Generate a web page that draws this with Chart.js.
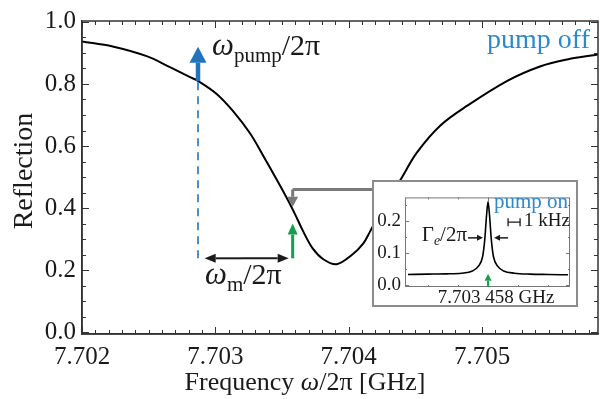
<!DOCTYPE html>
<html>
<head>
<meta charset="utf-8">
<script src="https://cdn.jsdelivr.net/npm/chart.js@4.4.1/dist/chart.umd.min.js"></script>
<style>
  html, body { margin: 0; padding: 0; background: #fff; }
  #wrap { position: relative; width: 600px; height: 399px; }
  #main { position: absolute; left: 0; top: 0; }
  #insetBox { position: absolute; left: 372px; top: 180px; width: 202px; height: 123px;
              border: 2px solid #8c8c8c; background: #fff; }
</style>
</head>
<body>
<div id="wrap">
  <canvas id="main" width="600" height="399"></canvas>
  <div id="insetBox"><canvas id="inset" width="202" height="123"></canvas></div>
</div>
<script>
// main curve: reflection vs frequency (GHz), pump off
const freq = [7.70200, 7.70223, 7.70249, 7.70266, 7.70281, 7.70287, 7.70301, 7.70313, 7.70326,
              7.70336, 7.70346, 7.70354, 7.70360, 7.70366, 7.70373, 7.70381, 7.70391,
              7.70403, 7.70411, 7.70416, 7.70427, 7.70439, 7.70451, 7.70469, 7.70489, 7.70519,
              7.70544, 7.70564, 7.70587];
const refl = [0.937, 0.921, 0.889, 0.854, 0.822, 0.810, 0.768, 0.714, 0.641,
              0.568, 0.492, 0.429, 0.378, 0.324, 0.270, 0.235, 0.219,
              0.251, 0.286, 0.324, 0.410, 0.492, 0.578, 0.667, 0.730, 0.810,
              0.857, 0.879, 0.895];
const xTicks = [7.702, 7.703, 7.704, 7.705];
const yTicks = [0.0, 0.2, 0.4, 0.6, 0.8, 1.0];

// inset: pump on, offset from 7.703458 GHz in kHz
const insetKHz = [-6.67, -5.0, -3.5, -2.2, -1.3, -0.8, -0.45, -0.28, -0.12, 0.0,
                  0.12, 0.28, 0.45, 0.8, 1.3, 2.2, 3.5, 5.0, 6.67];
const insetRefl = [0.034, 0.035, 0.036, 0.038, 0.045, 0.060, 0.090, 0.140, 0.220, 0.260,
                   0.220, 0.140, 0.090, 0.060, 0.045, 0.038, 0.035, 0.034, 0.033];
const insetYTicks = [0.0, 0.1, 0.2];

// annotation positions (data units)
const pumpFreq = 7.70287;
const probeFreq = 7.70358;

const SERIF = "'Liberation Serif', 'DejaVu Serif', serif";
const ink = '#1a1a1a';
const blue = '#1f74bd';
const lightBlue = '#2b8acb';
const green = '#13a04c';
const grey = '#7a7a7a';

function arrow(ctx, x1, y1, x2, y2, color, lw, hl, hw) {
  const a = Math.atan2(y2 - y1, x2 - x1);
  const bx = x2 - hl * Math.cos(a), by = y2 - hl * Math.sin(a);
  ctx.save();
  ctx.strokeStyle = color; ctx.fillStyle = color; ctx.lineWidth = lw;
  ctx.beginPath(); ctx.moveTo(x1, y1); ctx.lineTo(bx, by); ctx.stroke();
  ctx.beginPath();
  ctx.moveTo(x2, y2);
  ctx.lineTo(bx + hw / 2 * Math.sin(a), by - hw / 2 * Math.cos(a));
  ctx.lineTo(bx - hw / 2 * Math.sin(a), by + hw / 2 * Math.cos(a));
  ctx.closePath(); ctx.fill();
  ctx.restore();
}

function richText(ctx, parts, x, y, align) {
  let w = 0;
  parts.forEach(p => { ctx.font = p[1]; w += ctx.measureText(p[0]).width; });
  let cx = align === 'right' ? x - w : align === 'center' ? x - w / 2 : x;
  ctx.textAlign = 'left';
  ctx.textBaseline = 'alphabetic';
  parts.forEach(p => {
    ctx.font = p[1];
    ctx.fillText(p[0], cx, y + (p[2] || 0));
    cx += ctx.measureText(p[0]).width;
  });
}

function inwardTicks(ctx, area, xs, ys, xMaj, xMin, yMaj, yMin, big, small, color) {
  ctx.save();
  ctx.strokeStyle = color; ctx.lineWidth = 1;
  ctx.beginPath();
  const isIn = (list, v) => list.some(t => Math.abs(t - v) < 1e-9);
  xMin.forEach(v => {
    const len = isIn(xMaj, v) ? big : small;
    const p = Math.round(xs.getPixelForValue(v)) + 0.5;
    if (p < area.left || p > area.right) return;
    ctx.moveTo(p, area.bottom); ctx.lineTo(p, area.bottom - len);
    ctx.moveTo(p, area.top); ctx.lineTo(p, area.top + len);
  });
  yMin.forEach(v => {
    const len = isIn(yMaj, v) ? big : small;
    const p = Math.round(ys.getPixelForValue(v)) + 0.5;
    if (p < area.top || p > area.bottom) return;
    ctx.moveTo(area.left, p); ctx.lineTo(area.left + len, p);
    ctx.moveTo(area.right, p); ctx.lineTo(area.right - len, p);
  });
  ctx.stroke();
  ctx.restore();
}

const mainDecor = {
  id: 'mainDecor',
  afterDraw(chart) {
    const { ctx, chartArea: area, scales: { x, y } } = chart;
    const px = v => x.getPixelForValue(v), py = v => y.getPixelForValue(v);

    // frame on top and right
    ctx.save();
    ctx.strokeStyle = '#333'; ctx.lineWidth = 1.5;
    ctx.strokeRect(area.left, area.top, area.right - area.left, area.bottom - area.top);
    ctx.restore();

    const xMinor = [];
    for (let v = 7.702; v <= 7.7059; v += 0.0001) xMinor.push(Math.round(v * 1e4) / 1e4);
    const yMinor = [];
    for (let v = 0; v <= 1.0001; v += 0.05) yMinor.push(Math.round(v * 100) / 100);
    inwardTicks(ctx, area, x, y, xTicks, xMinor, yTicks, yMinor, 7, 4, '#333');

    // axis titles
    ctx.fillStyle = ink;
    richText(ctx, [['Frequency ', '26px ' + SERIF], ['ω', 'italic 26px ' + SERIF], ['/2π [GHz]', '26px ' + SERIF]],
      305, 390, 'center');
    ctx.save();
    ctx.translate(32, 171);
    ctx.rotate(-Math.PI / 2);
    richText(ctx, [['Reflection', '28px ' + SERIF]], 0, 0, 'center');
    ctx.restore();

    // pump: dashed line and blue arrow
    ctx.save();
    ctx.strokeStyle = blue; ctx.lineWidth = 1.6; ctx.setLineDash([8, 6]);
    ctx.beginPath();
    ctx.moveTo(px(pumpFreq), py(0.238)); ctx.lineTo(px(pumpFreq), py(0.810));
    ctx.stroke();
    ctx.restore();
    arrow(ctx, px(pumpFreq), py(0.810), px(pumpFreq), py(0.920), blue, 4.5, 16, 17);

    // detuning double arrow
    const ya = py(0.238);
    arrow(ctx, px(7.70320), ya, px(pumpFreq + 0.00005), ya, ink, 2, 11, 9);
    arrow(ctx, px(7.70320), ya, px(probeFreq - 0.00003), ya, ink, 2, 11, 9);

    // probe: green arrow
    arrow(ctx, px(probeFreq), py(0.238), px(probeFreq), py(0.35), green, 3, 11, 10);

    // grey connector from inset
    ctx.save();
    ctx.strokeStyle = grey; ctx.lineWidth = 3;
    ctx.beginPath();
    ctx.moveTo(px(7.70440), py(0.460)); ctx.lineTo(px(probeFreq), py(0.460));
    ctx.stroke();
    ctx.restore();
    arrow(ctx, px(probeFreq), py(0.460), px(probeFreq), py(0.404), grey, 3, 10, 11);

    // labels
    ctx.fillStyle = ink;
    richText(ctx, [['ω', 'italic 31px ' + SERIF], ['pump', '21px ' + SERIF, 7], ['/2π', '30px ' + SERIF]],
      px(7.702975), py(0.895));
    richText(ctx, [['ω', 'italic 31px ' + SERIF], ['m', '21px ' + SERIF, 7], ['/2π', '30px ' + SERIF]],
      px(7.702923), py(0.156));
    ctx.fillStyle = lightBlue;
    richText(ctx, [['pump off', '28px ' + SERIF]], px(7.70581), py(0.917), 'right');
  }
};

new Chart(document.getElementById('main'), {
  type: 'line',
  data: {
    datasets: [{
      data: freq.map((f, i) => ({ x: f, y: refl[i] })),
      borderColor: '#000',
      borderWidth: 2,
      pointRadius: 0,
      tension: 0.35,
      fill: false
    }]
  },
  options: {
    responsive: false,
    animation: false,
    devicePixelRatio: 1,
    layout: { padding: { top: 16, right: 2, left: 0, bottom: 0 } },
    plugins: { legend: { display: false }, tooltip: { enabled: false } },
    scales: {
      x: {
        type: 'linear', min: 7.702, max: 7.70587,
        afterBuildTicks: s => { s.ticks = xTicks.map(v => ({ value: v })); },
        afterFit: s => { s.height = 65; },
        grid: { display: false, drawTicks: false },
        border: { display: true, color: '#333', width: 1.5 },
        ticks: { callback: v => v.toFixed(3), font: { family: SERIF, size: 25 }, color: ink,
                 padding: 8, maxRotation: 0, autoSkip: false }
      },
      y: {
        type: 'linear', min: -0.006, max: 1.003,
        afterBuildTicks: s => { s.ticks = yTicks.map(v => ({ value: v })); },
        afterFit: s => { s.width = 82; },
        grid: { display: false, drawTicks: false },
        border: { display: true, color: '#333', width: 1.5 },
        ticks: { callback: v => v.toFixed(1), font: { family: SERIF, size: 25 }, color: ink, padding: 6 }
      }
    }
  },
  plugins: [mainDecor]
});

const insetDecor = {
  id: 'insetDecor',
  afterDraw(chart) {
    const { ctx, chartArea: area, scales: { x, y } } = chart;
    const px = v => x.getPixelForValue(v), py = v => y.getPixelForValue(v);
    ctx.save();
    ctx.strokeStyle = '#777'; ctx.lineWidth = 1;
    ctx.strokeRect(area.left + 0.5, area.top + 0.5, area.right - area.left - 1, area.bottom - area.top - 1);
    ctx.restore();
    inwardTicks(ctx, area, x, y, [0], [-5, -2.5, 0, 2.5, 5], insetYTicks,
      [0, 0.05, 0.1, 0.15, 0.2, 0.25], 4, 2, '#777');

    ctx.fillStyle = lightBlue;
    richText(ctx, [['pump on', '21px ' + SERIF]], px(6.67), py(0.241), 'right');

    // 1 kHz scale bar
    ctx.save();
    ctx.strokeStyle = ink; ctx.lineWidth = 1.3;
    const yb = py(0.197);
    ctx.beginPath();
    ctx.moveTo(px(1.67), yb); ctx.lineTo(px(2.67), yb);
    ctx.moveTo(px(1.67), yb - 4); ctx.lineTo(px(1.67), yb + 4);
    ctx.moveTo(px(2.67), yb - 4); ctx.lineTo(px(2.67), yb + 4);
    ctx.stroke();
    ctx.restore();
    ctx.fillStyle = ink;
    richText(ctx, [['1 kHz', '19px ' + SERIF]], px(3.0), py(0.184));

    // linewidth arrows
    richText(ctx, [['Γ', '21px ' + SERIF], ['e', 'italic 14px ' + SERIF, 4], ['/2π', '21px ' + SERIF]],
      px(-1.75), py(0.137), 'right');
    arrow(ctx, px(-1.67), py(0.148), px(-0.42), py(0.148), ink, 1.5, 6, 6);
    arrow(ctx, px(1.67), py(0.148), px(0.5), py(0.148), ink, 1.5, 6, 6);

    arrow(ctx, px(0), py(-0.005), px(0), py(0.036), green, 2, 7, 7);

    // centre frequency label
    richText(ctx, [['7.703 458 GHz', '19px ' + SERIF]], px(0.67), 121, 'center');
  }
};

new Chart(document.getElementById('inset'), {
  type: 'line',
  data: {
    datasets: [{
      data: insetKHz.map((k, i) => ({ x: k, y: insetRefl[i] })),
      borderColor: '#000',
      borderWidth: 1.6,
      pointRadius: 0,
      cubicInterpolationMode: 'monotone',
      fill: false
    }]
  },
  options: {
    responsive: false,
    animation: false,
    devicePixelRatio: 1,
    layout: { padding: { top: 3, right: 6, left: 0, bottom: 0 } },
    plugins: { legend: { display: false }, tooltip: { enabled: false } },
    scales: {
      x: {
        type: 'linear', min: -6.92, max: 6.83,
        afterFit: s => { s.height = 18; },
        grid: { display: false, drawTicks: false },
        border: { display: false },
        ticks: { display: false }
      },
      y: {
        type: 'linear', min: -0.005, max: 0.274,
        afterBuildTicks: s => { s.ticks = insetYTicks.map(v => ({ value: v })); },
        afterFit: s => { s.width = 31; },
        grid: { display: false, drawTicks: false },
        border: { display: false },
        ticks: { callback: v => v.toFixed(1), font: { family: SERIF, size: 19 }, color: ink, padding: 4 }
      }
    }
  },
  plugins: [insetDecor]
});
</script>
</body>
</html>
